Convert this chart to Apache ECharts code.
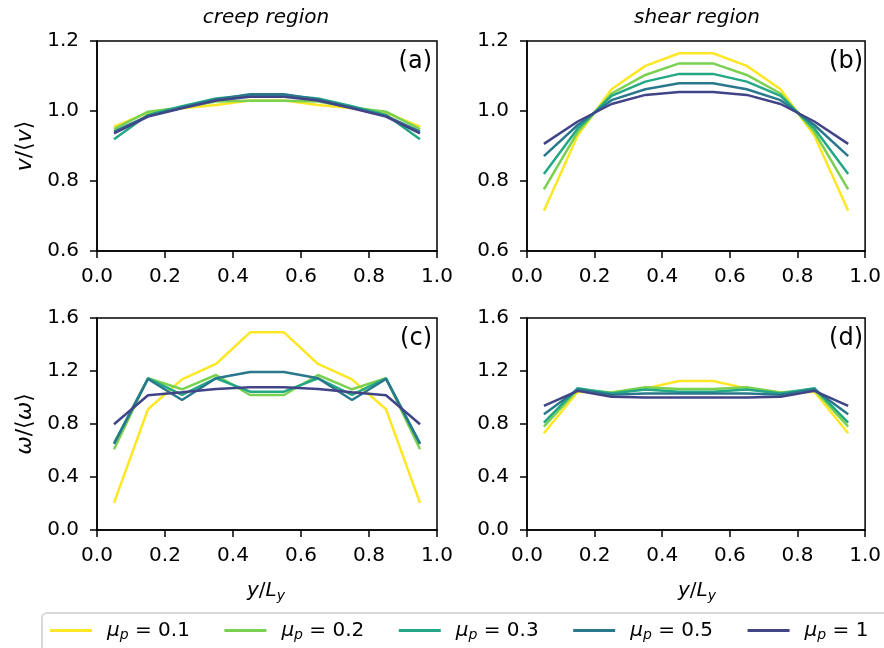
<!DOCTYPE html>
<html><head><meta charset="utf-8">
<script src="https://cdn.jsdelivr.net/npm/echarts@6/dist/echarts.min.js"></script>
<style>html,body{margin:0;padding:0;background:#fff}#c{width:884px;height:648px}</style>
</head><body><div id="c"></div>
<script>
// ---- data ----
const yPos = [0.05, 0.15, 0.25, 0.35, 0.45, 0.55, 0.65, 0.75, 0.85, 0.95];
const muLabels = ['0.1', '0.2', '0.3', '0.5', '1'];
const xTicks = [0, 0.2, 0.4, 0.6, 0.8, 1.0];
const vTicks = [0.6, 0.8, 1.0, 1.2];
const wTicks = [0, 0.4, 0.8, 1.2, 1.6];
const panelTitles = ['creep region', 'shear region'];
const panelTags = ['(a)', '(b)', '(c)', '(d)'];

// (a) v/<v>, creep region
const vCreep_01 = [0.955, 0.995, 1.008, 1.017, 1.030, 1.030, 1.017, 1.008, 0.995, 0.955];
const vCreep_02 = [0.948, 0.998, 1.010, 1.027, 1.029, 1.029, 1.027, 1.010, 0.998, 0.948];
const vCreep_03 = [0.919, 0.989, 1.014, 1.036, 1.045, 1.045, 1.036, 1.014, 0.989, 0.919];
const vCreep_05 = [0.941, 0.986, 1.010, 1.033, 1.048, 1.048, 1.033, 1.010, 0.986, 0.941];
const vCreep_1  = [0.936, 0.984, 1.008, 1.030, 1.041, 1.041, 1.030, 1.008, 0.984, 0.936];
// (b) v/<v>, shear region
const vShear_01 = [0.715, 0.930, 1.062, 1.129, 1.165, 1.165, 1.129, 1.062, 0.930, 0.715];
const vShear_02 = [0.776, 0.940, 1.050, 1.103, 1.136, 1.136, 1.103, 1.050, 0.940, 0.776];
const vShear_03 = [0.820, 0.950, 1.043, 1.084, 1.106, 1.106, 1.084, 1.043, 0.950, 0.820];
const vShear_05 = [0.871, 0.960, 1.031, 1.062, 1.079, 1.079, 1.062, 1.031, 0.960, 0.871];
const vShear_1  = [0.906, 0.970, 1.020, 1.046, 1.054, 1.054, 1.046, 1.020, 0.970, 0.906];
// (c) w/<w>, creep region
const wCreep_01 = [0.205, 0.911, 1.137, 1.253, 1.492, 1.492, 1.253, 1.137, 0.911, 0.205];
const wCreep_02 = [0.609, 1.145, 1.062, 1.170, 1.019, 1.019, 1.170, 1.062, 1.145, 0.609];
const wCreep_03 = [0.654, 1.145, 1.019, 1.145, 1.044, 1.044, 1.145, 1.019, 1.145, 0.654];
const wCreep_05 = [0.650, 1.140, 0.981, 1.145, 1.192, 1.192, 1.145, 0.981, 1.140, 0.650];
const wCreep_1  = [0.798, 1.017, 1.040, 1.064, 1.077, 1.077, 1.064, 1.040, 1.017, 0.798];
// (d) w/<w>, shear region
const wShear_01 = [0.730, 1.044, 1.037, 1.069, 1.125, 1.125, 1.069, 1.037, 1.044, 0.730];
const wShear_02 = [0.780, 1.060, 1.037, 1.077, 1.064, 1.064, 1.077, 1.037, 1.060, 0.780];
const wShear_03 = [0.810, 1.070, 1.030, 1.060, 1.044, 1.044, 1.060, 1.030, 1.070, 0.810];
const wShear_05 = [0.873, 1.060, 1.020, 1.030, 1.030, 1.030, 1.030, 1.020, 1.060, 0.873];
const wShear_1  = [0.936, 1.050, 1.006, 1.000, 1.000, 1.000, 1.000, 1.006, 1.050, 0.936];

const panelData = [
  [vCreep_01, vCreep_02, vCreep_03, vCreep_05, vCreep_1],
  [vShear_01, vShear_02, vShear_03, vShear_05, vShear_1],
  [wCreep_01, wCreep_02, wCreep_03, wCreep_05, wCreep_1],
  [wShear_01, wShear_02, wShear_03, wShear_05, wShear_1]
];
const colors = ['#fde725', '#7ad151', '#22a884', '#2a788e', '#414487'];

// ---- chart ----
const FONT = 'DejaVu Sans';
const FS = 20;
const grids = [
  {left: 97, top: 41, width: 340, height: 210},
  {left: 527, top: 41, width: 341, height: 210},
  {left: 97, top: 318, width: 340, height: 212},
  {left: 527, top: 318, width: 341, height: 212}
].map(g => Object.assign(g, {show: true, borderColor: '#000', borderWidth: 1.5, backgroundColor: 'transparent', containLabel: false}));

const axisCommon = {
  axisLine: {show: true, lineStyle: {color: '#000', width: 1.5}},
  axisTick: {show: true, inside: false, length: 7, lineStyle: {color: '#000', width: 1.5}},
  splitLine: {show: false},
  axisLabel: {color: '#000', fontFamily: FONT, fontSize: FS}
};
const xAxes = grids.map((g, i) => Object.assign({}, axisCommon, {
  type: 'value', gridIndex: i, min: xTicks[0], max: xTicks[xTicks.length - 1], interval: 0.2,
  axisLabel: Object.assign({}, axisCommon.axisLabel, {margin: 16, formatter: v => v.toFixed(1)})
}));
const yAxes = grids.map((g, i) => {
  const t = i < 2 ? vTicks : wTicks;
  return Object.assign({}, axisCommon, {
    type: 'value', gridIndex: i, min: t[0], max: t[t.length - 1], interval: t[1] - t[0],
    axisLabel: Object.assign({}, axisCommon.axisLabel, {margin: 18, formatter: v => v.toFixed(1)})
  });
});

const series = [];
panelData.forEach((arrs, p) => {
  arrs.forEach((arr, k) => {
    series.push({
      type: 'line', name: 'mu' + muLabels[k], xAxisIndex: p, yAxisIndex: p,
      data: yPos.map((x, j) => [x, arr[j]]),
      showSymbol: false, symbol: 'none', smooth: false, animation: false,
      lineStyle: {color: colors[k], width: 2.5}, itemStyle: {color: colors[k]}, z: 2 + k
    });
  });
});

const italic = {fontFamily: FONT, fontStyle: 'italic', fontSize: FS, fill: '#000'};
const normal = {fontFamily: FONT, fontSize: FS, fill: '#000'};
const italicY = {fontFamily: FONT, fontStyle: 'italic', fontSize: 22, fill: '#000'};
const normalY = {fontFamily: FONT, fontSize: 22, fill: '#000'};
const graphics = [];
// panel tags
panelTags.forEach((t, i) => {
  const g = grids[i];
  graphics.push({type: 'text', x: g.left + g.width - 5, y: g.top + 21,
    style: {text: t, fontFamily: FONT, fontSize: 24, fill: '#000', align: 'right', verticalAlign: 'middle'}});
});
// y axis labels
graphics.push({type: 'text', x: 25, y: 146, rotation: Math.PI / 2,
  style: {text: '{i|v}{n|/⟨}{i|v}{n|⟩}', align: 'center', verticalAlign: 'middle',
    rich: {i: italicY, n: normalY}}});
graphics.push({type: 'text', x: 25, y: 424, rotation: Math.PI / 2,
  style: {text: '{i|ω}{n|/⟨}{i|ω}{n|⟩}', align: 'center', verticalAlign: 'middle',
    rich: {i: italicY, n: normalY}}});
// x axis labels
[266, 697].forEach(cx => {
  graphics.push({type: 'text', x: cx, y: 591,
    style: {text: '{i|y}{n|/}{i|L}{s|y}', align: 'center', verticalAlign: 'middle',
      rich: {i: italic, n: normal,
        s: {fontFamily: FONT, fontStyle: 'italic', fontSize: 14, fill: '#000', padding: [11, 0, 0, 0]}}}});
});

const option = {
  backgroundColor: '#fff',
  animation: false,
  color: colors,
  title: panelTitles.map((t, i) => ({
    text: t, left: (i === 0 ? 266 : 697), top: 8, textAlign: 'center', padding: 0,
    textStyle: {fontFamily: FONT, fontStyle: 'italic', fontWeight: 'normal', fontSize: FS, color: '#000'}
  })),
  grid: grids,
  xAxis: xAxes,
  yAxis: yAxes,
  legend: {
    data: muLabels.map((m, k) => ({name: 'mu' + m, itemStyle: {color: colors[k]}})),
    left: 42, top: 613, width: 1000, orient: 'horizontal',
    padding: [6, 30, 10, 8],
    icon: 'rect', itemWidth: 42, itemHeight: 3, itemGap: 34.5,
    borderColor: '#d8d8d8', borderWidth: 2, borderRadius: 5, backgroundColor: '#fff',
    selectedMode: false,
    formatter: name => '{i|μ}{s|p}{n| = ' + name.slice(2) + '}',
    textStyle: {
      width: 85, padding: [0, 0, 0, 10],
      rich: {
        i: {fontFamily: FONT, fontStyle: 'italic', fontSize: FS, color: '#000', lineHeight: 24},
        s: {fontFamily: FONT, fontStyle: 'italic', fontSize: 14, color: '#000', padding: [9, 0, 0, 0], lineHeight: 24},
        n: {fontFamily: FONT, fontSize: FS, color: '#000', lineHeight: 24}
      }
    }
  },
  graphic: graphics,
  series: series
};
const chart = echarts.init(document.getElementById('c'), null, {renderer: 'canvas'});
chart.setOption(option);
</script>
</body></html>
